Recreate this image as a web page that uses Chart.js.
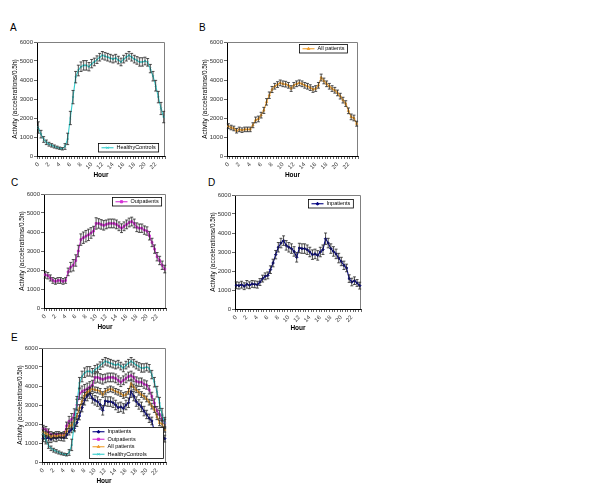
<!DOCTYPE html>
<html>
<head>
<meta charset="utf-8">
<script src="https://cdn.jsdelivr.net/npm/chart.js@4.4.0/dist/chart.umd.min.js"></script>
<style>
body{margin:0;background:#fff;width:600px;height:488px;position:relative;overflow:hidden;font-family:"Liberation Sans",Arial,sans-serif}
.lbl{position:absolute;font-size:10px;line-height:10px;color:#000}
canvas{position:absolute}
</style>
</head>
<body>
<div class="lbl" style="left:10px;top:23px">A</div>
<div class="lbl" style="left:199px;top:23px">B</div>
<div class="lbl" style="left:11px;top:178px">C</div>
<div class="lbl" style="left:208px;top:178px">D</div>
<div class="lbl" style="left:11px;top:333px">E</div>
<canvas id="ca"></canvas>
<canvas id="cb"></canvas>
<canvas id="cc"></canvas>
<canvas id="cd"></canvas>
<canvas id="ce"></canvas>
<script>
// half-hour categories
var hours = ['0','0.5','1','1.5','2','2.5','3','3.5','4','4.5','5','5.5','6','6.5','7','7.5',
  '8','8.5','9','9.5','10','10.5','11','11.5','12','12.5','13','13.5','14','14.5','15','15.5',
  '16','16.5','17','17.5','18','18.5','19','19.5','20','20.5','21','21.5','22','22.5','23','23.5'];
var shownTicks = ['0','2','4','6','8','10','12','14','16','18','20','22'];

var inpatients = [1250,1230,1280,1200,1300,1250,1320,1300,1280,1420,1600,1720,1770,2070,2420,2860,
  3250,3470,3600,3350,3250,3180,3030,2720,3210,3180,3180,3120,3000,2860,2900,2820,
  3000,3120,3700,3470,3180,3030,2900,2680,2500,2300,2160,1600,1420,1490,1370,1230];
var inpatientsErr = [180,180,180,180,200,180,180,180,180,180,180,180,180,200,200,220,
  250,250,250,250,250,250,250,250,250,250,250,250,250,250,250,250,
  250,250,300,250,250,250,250,250,220,220,200,200,200,200,180,180];

var outpatients = [1750,1700,1580,1450,1400,1450,1450,1400,1450,1900,2150,2250,2500,3000,3600,3700,
  3780,3850,3950,4050,4450,4450,4400,4350,4400,4450,4450,4450,4400,4300,4200,4300,
  4400,4500,4550,4450,4250,4200,4200,4100,4050,3800,3450,3100,2700,2500,2250,2050];
var outpatientsErr = [180,170,160,150,150,150,150,150,150,200,250,300,300,300,300,300,
  300,300,280,250,300,250,250,250,230,230,230,230,230,230,230,230,
  230,230,230,230,230,220,220,220,220,220,220,220,220,220,220,200];

var allPatients = [1570,1500,1450,1330,1400,1360,1400,1400,1400,1620,1900,1950,2150,2400,2850,3200,
  3500,3670,3760,3850,3800,3780,3720,3550,3720,3800,3850,3800,3720,3670,3600,3500,
  3550,3720,4130,3950,3800,3670,3550,3460,3320,3150,2940,2760,2380,2060,2000,1700];
var allPatientsErr = [130,120,120,120,120,120,120,120,120,130,150,150,150,160,170,170,
  160,150,150,150,150,150,150,150,150,150,150,150,150,150,150,150,
  150,150,180,150,150,150,150,150,150,150,150,150,150,150,150,130];

var healthy = [1500,1150,870,720,620,560,500,450,410,380,500,900,2000,3100,4150,4500,
  4700,4770,4770,4700,4860,4950,5070,5200,5300,5250,5200,5150,5100,5150,5050,4950,
  5100,5200,5300,5200,5100,5030,4950,4950,5000,4930,4600,4200,3700,3100,2500,2050];
var healthyErr = [300,200,150,120,100,90,80,70,60,60,150,300,350,350,300,280,
  250,250,250,220,220,200,200,200,200,200,200,200,200,200,200,200,
  200,200,200,200,200,200,220,220,200,200,220,250,280,300,320,300];

var seriesNames = ['Inpatients','Outpatients','All patients','HealthyControls'];
var seriesData = [inpatients, outpatients, allPatients, healthy];
var seriesErr = [inpatientsErr, outpatientsErr, allPatientsErr, healthyErr];
var seriesColors = ['#000080','#d42fd4','#f0a030','#33cccc'];
var seriesMarkers = ['rectRot','rect','triangle','crossRot'];

var FONT = '"Liberation Sans", Arial, sans-serif';

var frame = {
  id: 'frame',
  beforeDatasetsDraw: function (chart) {
    var a = chart.chartArea, c = chart.ctx;
    c.save();
    c.strokeStyle = '#808080';
    c.lineWidth = 1;
    c.beginPath();
    c.moveTo(a.left, Math.round(a.top) + 0.5);
    c.lineTo(Math.round(a.right) - 0.5, Math.round(a.top) + 0.5);
    c.lineTo(Math.round(a.right) - 0.5, a.bottom);
    c.stroke();
    c.restore();
  }
};

var errorBars = {
  id: 'errorBars',
  afterDatasetDraw: function (chart, args) {
    var ds = chart.data.datasets[args.index];
    if (!ds.errors) return;
    var y = chart.scales.y, c = chart.ctx;
    c.save();
    c.strokeStyle = '#262626';
    c.lineWidth = 0.8;
    c.beginPath();
    args.meta.data.forEach(function (pt, i) {
      var v = ds.data[i], e = ds.errors[i];
      var top = y.getPixelForValue(v + e), bot = y.getPixelForValue(v - e);
      c.moveTo(pt.x, top); c.lineTo(pt.x, bot);
      c.moveTo(pt.x - 1.5, top); c.lineTo(pt.x + 1.5, top);
      c.moveTo(pt.x - 1.5, bot); c.lineTo(pt.x + 1.5, bot);
    });
    c.stroke();
    c.restore();
  }
};

var boxLegend = {
  id: 'boxLegend',
  afterDraw: function (chart, args, opts) {
    var a = chart.chartArea, c = chart.ctx, ds = chart.data.datasets;
    c.save();
    c.font = '5.5px ' + FONT;
    var tw = 0;
    ds.forEach(function (d) { tw = Math.max(tw, c.measureText(d.label).width); });
    var rowH = 7.5, w = Math.max(opts.w || 0, 18 + tw + 3), h = rowH * ds.length + 1;
    var x0 = Math.round(a.right - opts.dx - w) + 0.5;
    var y0 = Math.round(opts.top ? a.top + opts.dy : a.bottom - opts.dy - h) + 0.5;
    c.fillStyle = '#fff';
    c.fillRect(x0, y0, w, h);
    c.strokeStyle = '#000';
    c.lineWidth = 0.8;
    c.strokeRect(x0, y0, w, h);
    c.textBaseline = 'middle';
    ds.forEach(function (d, i) {
      var cy = y0 + 0.5 + rowH * (i + 0.5);
      c.strokeStyle = d.borderColor;
      c.fillStyle = d.borderColor;
      c.lineWidth = 1.1;
      c.beginPath(); c.moveTo(x0 + 3, cy); c.lineTo(x0 + 15, cy); c.stroke();
      c.lineWidth = 1;
      Chart.helpers.drawPoint(c, {pointStyle: d.pointStyle, radius: 1.5, rotation: 0, borderWidth: 1}, x0 + 9, cy);
      c.fillStyle = '#000';
      c.fillText(d.label, x0 + 18, cy);
    });
    c.restore();
  }
};

function makeChart(id, plot, idx, legend) {
  var yw = 26, xh = 24, padT = 6, padR = 6;
  var cv = document.getElementById(id);
  cv.width = (plot[2] - plot[0]) + yw + padR;
  cv.height = (plot[3] - plot[1]) + padT + xh;
  cv.style.left = (plot[0] - yw) + 'px';
  cv.style.top = (plot[1] - padT) + 'px';

  var datasets = idx.map(function (k) {
    return {
      label: seriesNames[k],
      data: seriesData[k],
      errors: seriesErr[k],
      borderColor: seriesColors[k],
      backgroundColor: seriesColors[k],
      pointStyle: seriesMarkers[k],
      pointRadius: 1.3,
      pointBorderWidth: 0.8,
      borderWidth: 1.1,
      order: 4 - k
    };
  });

  return new Chart(cv, {
    type: 'line',
    data: {labels: hours, datasets: datasets},
    options: {
      responsive: false,
      animation: false,
      layout: {padding: {top: padT, right: padR, left: 0, bottom: 0}},
      plugins: {
        legend: {display: false},
        tooltip: {enabled: false},
        boxLegend: legend
      },
      scales: {
        x: {
          offset: true,
          grid: {display: true, drawOnChartArea: false, drawTicks: true, tickLength: 3, color: '#000', lineWidth: 0.6, offset: true},
          border: {display: true, color: '#000', width: 1},
          ticks: {
            autoSkip: false, minRotation: 45, maxRotation: 45, padding: 2, color: '#333',
            font: {size: 6, family: FONT},
            callback: function (v) {
              var l = this.getLabelForValue(v);
              return shownTicks.indexOf(l) >= 0 ? l : '';
            }
          },
          title: {display: true, text: 'Hour', color: '#000', font: {size: 6.5, weight: 'bold', family: FONT}, padding: {top: 0, bottom: 1}},
          afterFit: function (s) { s.height = xh; }
        },
        y: {
          min: 0, max: 6000,
          grid: {display: true, drawOnChartArea: false, drawTicks: true, tickLength: 3, color: '#000', lineWidth: 0.6},
          border: {display: true, color: '#000', width: 1},
          ticks: {
            stepSize: 1000, padding: 1, color: '#333', font: {size: 6, family: FONT},
            callback: function (v) { return String(v); }
          },
          title: {display: true, text: 'Activity (accelerations/0.5h)', color: '#000', font: {size: 6.5, family: FONT}, padding: 0},
          afterFit: function (s) { s.width = yw; }
        }
      }
    },
    plugins: [frame, errorBars, boxLegend]
  });
}

makeChart('ca', [37, 42, 165, 156], [3], {dx: 7, dy: 5, top: false});
makeChart('cb', [227, 42, 358, 156], [2], {dx: 11, dy: 2, top: true});
makeChart('cc', [44, 194, 166, 308], [1], {dx: 5, dy: 3, top: true});
makeChart('cd', [235, 195, 361, 309], [0], {dx: 8, dy: 4, top: true});
makeChart('ce', [42, 348, 166, 462], [0, 1, 2, 3], {dx: 3, dy: 4, top: false, w: 74});
</script>
</body>
</html>
